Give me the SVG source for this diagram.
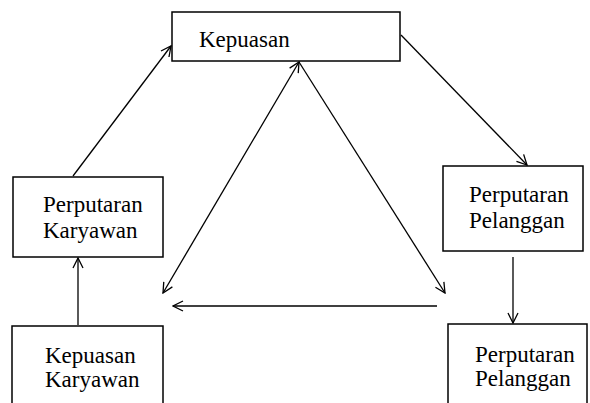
<svg xmlns="http://www.w3.org/2000/svg" width="590" height="403" viewBox="0 0 590 403">
<defs>
<style>
.box{fill:#fff;stroke:#000;stroke-width:1.5}
.ln{fill:none;stroke:#000;stroke-width:1.3}
text{font-family:"Liberation Serif","Times New Roman",serif;font-size:23px;fill:#000}
</style>
<marker id="ah" viewBox="0 0 12 12" refX="11" refY="6" markerWidth="12" markerHeight="12" markerUnits="userSpaceOnUse" orient="auto-start-reverse">
<path d="M1,1 L11,6 L1,11" fill="none" stroke="#000" stroke-width="1.3"/>
</marker>
</defs>
<g id="n-kepuasan">
<rect class="box" x="172" y="12" width="228" height="49"/>
<text x="199" y="47">Kepuasan</text>
</g>
<g id="n-perputaran-karyawan">
<rect class="box" x="13" y="177" width="150" height="80"/>
<text x="43" y="212">Perputaran</text>
<text x="43" y="238">Karyawan</text>
</g>
<g id="n-perputaran-pelanggan-1">
<rect class="box" x="443" y="166" width="140" height="85"/>
<text x="469" y="202">Perputaran</text>
<text x="469" y="228">Pelanggan</text>
</g>
<g id="n-kepuasan-karyawan">
<rect class="box" x="12" y="326" width="151" height="90"/>
<text x="45" y="363">Kepuasan</text>
<text x="45" y="387">Karyawan</text>
</g>
<g id="n-perputaran-pelanggan-2">
<rect class="box" x="448" y="324" width="139" height="90"/>
<text x="475" y="362">Perputaran</text>
<text x="475" y="386">Pelanggan</text>
</g>
<g id="connectors">
<line class="ln" x1="73" y1="176" x2="171" y2="46" marker-end="url(#ah)"/>
<line class="ln" x1="401" y1="35" x2="527" y2="165" marker-end="url(#ah)"/>
<line class="ln" x1="163" y1="293" x2="299" y2="62" marker-start="url(#ah)" marker-end="url(#ah)"/>
<line class="ln" x1="299" y1="62" x2="445" y2="293" marker-end="url(#ah)"/>
<line class="ln" x1="437" y1="306" x2="173" y2="306" marker-end="url(#ah)"/>
<line class="ln" x1="78" y1="325" x2="78" y2="258" marker-end="url(#ah)"/>
<line class="ln" x1="513" y1="257" x2="513" y2="323" marker-end="url(#ah)"/>
</g>
</svg>
